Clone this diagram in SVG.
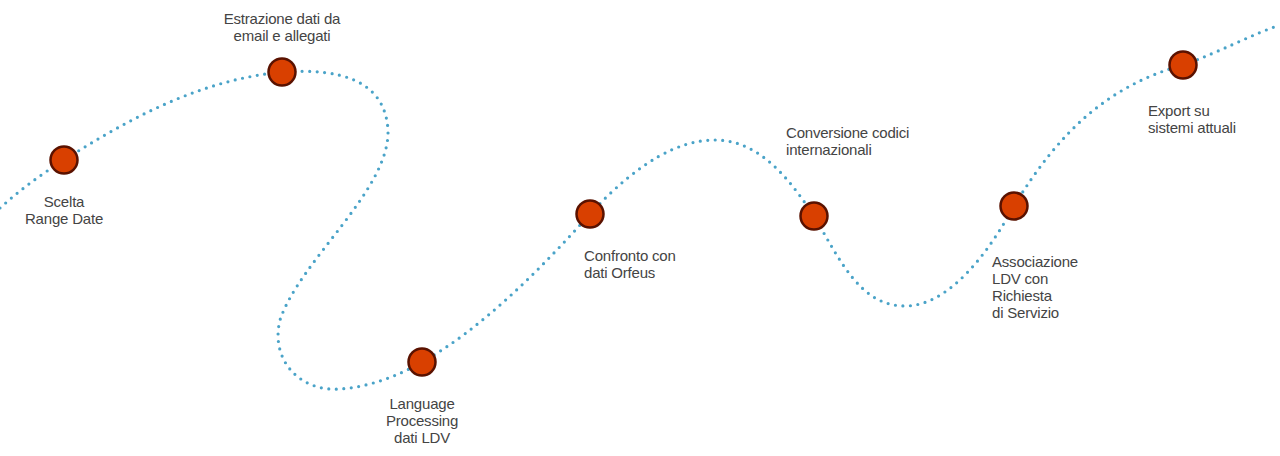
<svg xmlns="http://www.w3.org/2000/svg" width="1280" height="456" viewBox="0 0 1280 456">
<style>
.lbl{font-family:"Liberation Sans",Arial,sans-serif;font-size:15px;fill:#444444;letter-spacing:-0.2px;}
.c{text-anchor:middle;}
.node{fill:#d94000;stroke:#5a1200;stroke-width:2.5;}
.path{fill:none;stroke:#4aa3c8;stroke-width:3.2;stroke-linecap:round;stroke-dasharray:0 7.5;}
</style>
<rect width="1280" height="456" fill="#ffffff"/>
<g id="connectors">
<path class="path" d="M 0 208 C 20 190, 40 175, 64 160 C 130 118, 200 80, 282 72 C 340 68, 385 80, 388 130 C 390 190, 300 260, 280 320 C 270 360, 300 392, 340 389 C 370 387, 400 375, 422 362 C 480 330, 540 270, 590 214 C 640 160, 680 140, 715 140 C 760 140, 790 180, 814 216 C 840 260, 860 306, 905 306 C 950 306, 990 250, 1014 206 C 1060 130, 1110 85, 1183 65 C 1220 52, 1250 35, 1280 25"/>
</g>
<g id="n1"><circle class="node" cx="64" cy="160" r="13.5"/><text class="lbl c" x="64" y="207">Scelta</text><text class="lbl c" x="64" y="224">Range Date</text></g>
<g id="n2"><circle class="node" cx="282" cy="72" r="13.5"/><text class="lbl c" x="282" y="24">Estrazione dati da</text><text class="lbl c" x="282" y="41">email e allegati</text></g>
<g id="n3"><circle class="node" cx="422" cy="362" r="13.5"/><text class="lbl c" x="422" y="409">Language</text><text class="lbl c" x="422" y="426">Processing</text><text class="lbl c" x="422" y="443">dati LDV</text></g>
<g id="n4"><circle class="node" cx="590" cy="214" r="13.5"/><text class="lbl" x="584" y="261">Confronto con</text><text class="lbl" x="584" y="278">dati Orfeus</text></g>
<g id="n5"><circle class="node" cx="814" cy="216" r="13.5"/><text class="lbl" x="786" y="138">Conversione codici</text><text class="lbl" x="786" y="155">internazionali</text></g>
<g id="n6"><circle class="node" cx="1014" cy="206" r="13.5"/><text class="lbl" x="992" y="267">Associazione</text><text class="lbl" x="992" y="284">LDV con</text><text class="lbl" x="992" y="301">Richiesta</text><text class="lbl" x="992" y="318">di Servizio</text></g>
<g id="n7"><circle class="node" cx="1183" cy="65" r="13.5"/><text class="lbl" x="1148" y="116">Export su</text><text class="lbl" x="1148" y="133">sistemi attuali</text></g>
</svg>
